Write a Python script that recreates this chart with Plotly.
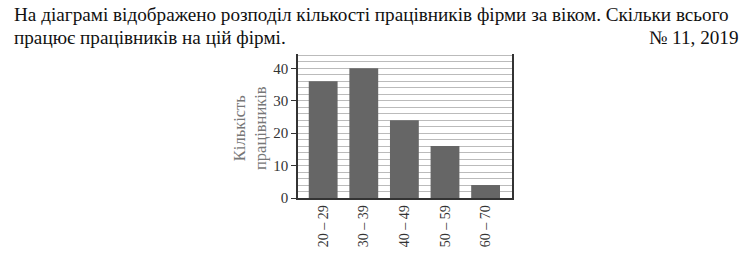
import plotly.graph_objects as go

categories = ["20 – 29", "30 – 39", "40 – 49", "50 – 59", "60 – 70"]
counts = [36, 40, 24, 16, 4]
y_ticks = [0, 10, 20, 30, 40]

W, H = 746, 257
L, R, T, B = 298, 512, 54, 198

def px(x):
    return (x - L) / (R - L)

def py(y):
    return (B - y) / (B - T)

serif = "Liberation Serif, Times New Roman, serif"

fig = go.Figure(go.Bar(
    x=categories, y=counts,
    marker=dict(color="#666666", line=dict(width=0)),
    width=0.71,
))

fig.update_layout(
    width=W, height=H,
    margin=dict(l=L, r=W - R, t=T, b=H - B),
    paper_bgcolor="white", plot_bgcolor="white",
    showlegend=False,
    font=dict(family=serif, color="#333333"),
    xaxis=dict(
        range=[-0.62, 4.65],
        showline=True, linecolor="#333333", linewidth=1.5,
        ticks="", tickangle=-90, automargin=False,
        tickfont=dict(size=14, family=serif, color="#333333"),
        showgrid=False,
    ),
    yaxis=dict(
        range=[0, 44.4],
        tickvals=y_ticks, automargin=False,
        showline=True, linecolor="#333333", linewidth=1.5, mirror=True,
        ticks="outside", ticklen=5, tickcolor="#333333",
        tickfont=dict(size=15, family=serif, color="#333333"),
        showgrid=True, gridcolor="#bbbbbb", gridwidth=1,
        minor=dict(dtick=2, showgrid=True, gridcolor="#bbbbbb", gridwidth=1),
        zeroline=False,
    ),
    annotations=[
        dict(text="Кількість<br>працівників", textangle=-90,
             xref="paper", yref="paper", x=px(250), y=py(128),
             xanchor="center", yanchor="middle", showarrow=False,
             font=dict(size=16.5, family=serif, color="#777777")),
        dict(text="На діаграмі відображено розподіл кількості працівників фірми за віком. Скільки всього",
             xref="paper", yref="paper", x=px(12), y=py(14),
             xanchor="left", yanchor="middle", showarrow=False,
             font=dict(size=19.2, family=serif, color="#111111")),
        dict(text="працює працівників на цій фірмі.",
             xref="paper", yref="paper", x=px(12), y=py(37),
             xanchor="left", yanchor="middle", showarrow=False,
             font=dict(size=19.2, family=serif, color="#111111")),
        dict(text="№ 11, 2019",
             xref="paper", yref="paper", x=px(741), y=py(37),
             xanchor="right", yanchor="middle", showarrow=False,
             font=dict(size=19.2, family=serif, color="#111111")),
    ],
)

fig.write_html("out.html")
